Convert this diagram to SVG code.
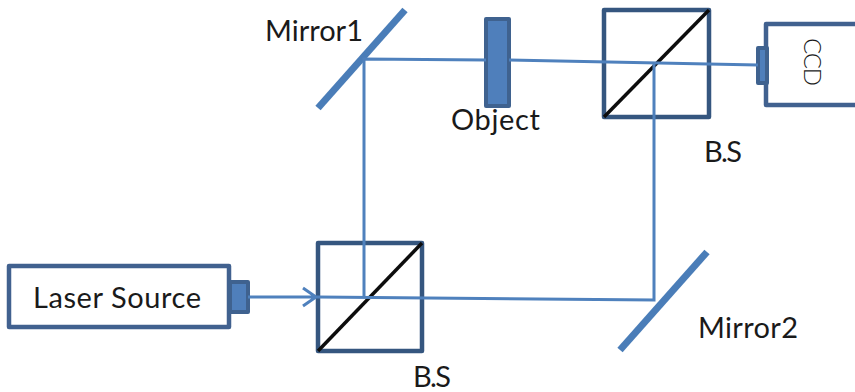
<svg xmlns="http://www.w3.org/2000/svg" width="855" height="392" viewBox="0 0 855 392">
<style>
.box{fill:#fff;stroke:#41618f;stroke-width:4.5;stroke-linejoin:round}
.cube{fill:#fff;stroke:#35567f;stroke-width:4.5;stroke-linejoin:round}
.diag{fill:none;stroke:#0d0d0d;stroke-width:3.5}
.fill{fill:#4f7fbb;stroke:#3f628f;stroke-width:4;stroke-linejoin:round}
.mirror{fill:none;stroke:#4a7db8;stroke-width:7}
.beam{fill:none;stroke:#4f81bd;stroke-width:3}
text{font-family:Lato,"Noto Sans",sans-serif;font-size:29px;fill:#1a1a1a}
</style>
<g id="laser-source"><rect class="box" x="9" y="266" width="220" height="61"/><rect class="fill" x="230" y="282" width="18" height="30"/><text x="33" y="308" textLength="168">Laser Source</text></g>
<g id="bs-lower"><rect class="cube" x="318" y="243" width="104" height="108"/><line class="diag" x1="318" y1="351" x2="422" y2="243"/><text x="413" y="387" textLength="38">B.S</text></g>
<g id="bs-upper"><rect class="cube" x="604" y="10" width="105" height="107"/><line class="diag" x1="604" y1="117" x2="709" y2="10"/><text x="704" y="162" textLength="38">B.S</text></g>
<g id="mirror1"><line class="mirror" x1="318" y1="108" x2="405" y2="10"/><text x="265" y="41" textLength="98">Mirror1</text></g>
<g id="mirror2"><line class="mirror" x1="620" y1="350" x2="707" y2="252"/><text x="698" y="338" textLength="100">Mirror2</text></g>
<g id="object"><rect class="fill" x="486" y="19" width="23" height="87"/><text x="451" y="130" textLength="89">Object</text></g>
<g id="ccd"><rect class="box" x="766" y="24" width="95" height="81"/><rect class="fill" x="758" y="48" width="9" height="35"/><text transform="translate(804,38) rotate(90)" style="font-size:24px;font-weight:300" textLength="48">CCD</text></g>
<g id="connectors">
<path class="beam" d="M248 297H318M303 288L316 297L303 306"/>
<path class="beam" d="M318 297L654 300V62"/>
<path class="beam" d="M364 297V59L486 60M509 60L758 65"/>
</g>
</svg>
